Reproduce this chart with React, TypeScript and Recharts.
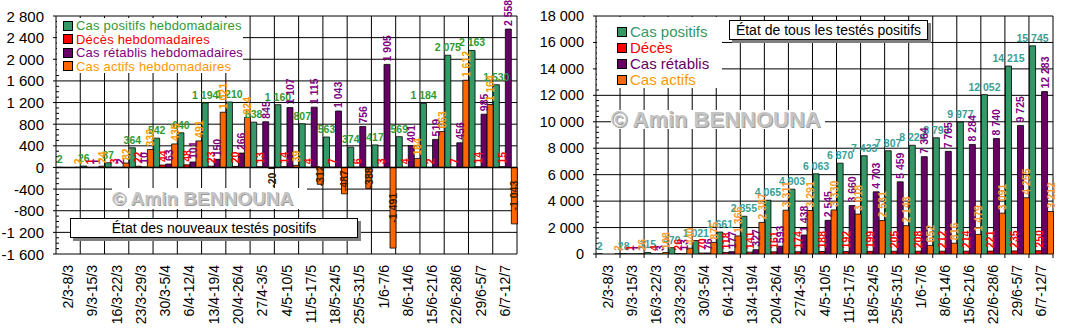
import React from 'react';
import { BarChart, Bar, XAxis, YAxis, CartesianGrid, LabelList, ReferenceLine } from 'recharts';

// Weekly periods (Monday–Sunday)
const weeks = [
  '2/3-8/3', '9/3-15/3', '16/3-22/3', '23/3-29/3', '30/3-5/4', '6/4-12/4', '13/4-19/4',
  '20/4-26/4', '27/4-3/5', '4/5-10/5', '11/5-17/5', '18/5-24/5', '25/5-31/5', '1/6-7/6',
  '8/6-14/6', '15/6-21/6', '22/6-28/6', '29/6-5/7', '6/7-12/7',
];

// New cases per week
const weeklyPositive = [2, 26, 87, 364, 542, 640, 1194, 1210, 838, 1160, 807, 563, 374, 417, 569, 1184, 2075, 2163, 1530];
const weeklyDeaths = [0, 1, 3, 22, 44, 48, 23, 20, 13, 14, 4, 7, 6, 3, 4, 2, 7, 14, 15];
const weeklyRecovered = [0, 1, 2, 10, 63, 101, 150, 266, 845, 1107, 1115, 1043, 756, 1905, 401, 519, 456, 985, 2558];
const weeklyActive = [2, 24, 82, 332, 435, 491, 1021, 924, -20, 39, -312, -487, -388, -1491, 164, 663, 1612, 1164, -1043];

// Cumulative totals at the end of each week
const totalPositive = [2, 28, 115, 479, 1021, 1661, 2855, 4065, 4903, 6063, 6870, 7433, 7807, 8224, 8793, 9977, 12052, 14215, 15745];
const totalDeaths = [0, 1, 4, 26, 70, 118, 141, 161, 174, 188, 192, 199, 205, 208, 212, 214, 221, 235, 250];
const totalRecovered = [0, 1, 3, 13, 76, 177, 327, 593, 1438, 2545, 3660, 4703, 5459, 7364, 7765, 8284, 8740, 9725, 12283];
const totalActive = [2, 26, 108, 440, 875, 1366, 2387, 3311, 3291, 3330, 3018, 2531, 2143, 652, 816, 1479, 3091, 4255, 3212];

// Axis ticks
const weeklyDomain: [number, number] = [-1600, 2800];
const totalDomain: [number, number] = [0, 18000];
const weeklyMajorTicks = [-1600, -1200, -800, -400, 0, 400, 800, 1200, 1600, 2000, 2400, 2800];
const totalMajorTicks = [0, 2000, 4000, 6000, 8000, 10000, 12000, 14000, 16000, 18000];
const weeklyMinorStep = 100;
const totalMinorStep = 400;

const stepTicks = (lo: number, hi: number, step: number) => {
  const out: number[] = [];
  for (let v = lo; v <= hi; v += step) out.push(v);
  return out;
};
const weeklyTicks = stepTicks(weeklyDomain[0], weeklyDomain[1], weeklyMinorStep);
const totalTicks = Array.from(
  new Set(stepTicks(totalDomain[0], totalDomain[1], totalMinorStep).concat(totalMajorTicks)),
).sort((a, b) => a - b);

const weeklyData = weeks.map((week, i) => ({
  week,
  positive: weeklyPositive[i],
  deaths: weeklyDeaths[i],
  recovered: weeklyRecovered[i],
  active: weeklyActive[i],
}));

const totalData = weeks.map((week, i) => ({
  week,
  positive: totalPositive[i],
  deaths: totalDeaths[i],
  recovered: totalRecovered[i],
  active: totalActive[i],
}));

const FONT = "'Liberation Sans', Arial, Helvetica, sans-serif";
const NARROW = "'Liberation Sans Narrow', 'Arial Narrow', 'Liberation Sans', Arial, sans-serif";

const GREEN = '#339966';
const RED = '#FF0000';
const PURPLE = '#660066';
const ORANGE = '#FF6600';

const fmt = (v: number) => {
  const s = String(Math.abs(v)).replace(/\B(?=(\d{3})+(?!\d))/g, ' ');
  return v < 0 ? '-' + s : s;
};

// Grid lines: one vertical line at every category boundary, horizontal lines at major ticks
const categoryBoundaries = (count: number) => ({ offset }: any) =>
  stepTicks(0, count, 1).map((i) => offset.left + (i * offset.width) / count);
const valueLines = (ticks: number[], domain: [number, number]) => ({ offset }: any) =>
  ticks.map((t) => offset.top + ((domain[1] - t) / (domain[1] - domain[0])) * offset.height);

const barBox = (p: any) => {
  const x = Number(p.x), y = Number(p.y), w = Number(p.width), h = Number(p.height);
  return { cx: x + w / 2, top: Math.min(y, y + h), bottom: Math.max(y, y + h), value: Number(p.value) };
};

const makeHLabel = (color: string, size: number) => (p: any) => {
  const b = barBox(p);
  return (
    <text x={b.cx} y={b.top - 4} textAnchor="middle" fill={color} fontSize={size} fontWeight="bold" fontFamily={NARROW}>
      {fmt(b.value)}
    </text>
  );
};

const makeVLabel = (color: string, size: number, negColor = '#3a1a00') => (p: any) => {
  const b = barBox(p);
  const label = fmt(b.value);
  const common = { fontSize: size, fontWeight: 'bold' as const, fontFamily: NARROW, dominantBaseline: 'central' as const };
  if (b.value < 0) {
    const len = b.bottom - b.top;
    if (len > label.length * 4) {
      const cy = (b.top + b.bottom) / 2;
      return (
        <text transform={`translate(${b.cx},${cy}) rotate(-90)`} textAnchor="middle" fill={negColor} {...common}>
          {label}
        </text>
      );
    }
    return (
      <text transform={`translate(${b.cx},${b.bottom + 4}) rotate(-90)`} textAnchor="end" fill={negColor} {...common}>
        {label}
      </text>
    );
  }
  return (
    <text transform={`translate(${b.cx},${b.top - 3}) rotate(-90)`} textAnchor="start" fill={color} {...common}>
      {label}
    </text>
  );
};

const makeYTick = (majorTicks: number[], fontSize: number) => (p: any) => {
  const v = Number(p.payload.value);
  const isMajor = majorTicks.includes(v);
  const x = Number(p.x), y = Number(p.y);
  return (
    <g>
      {isMajor ? (
        <line x1={x - 3} x2={x} y1={y} y2={y} stroke="#000" />
      ) : (
        <line x1={x} x2={x + 3} y1={y} y2={y} stroke="#000" />
      )}
      {isMajor && (
        <text x={x - 12} y={y} textAnchor="end" dominantBaseline="central" fontSize={fontSize} fontFamily={FONT} fill="#000">
          {fmt(v)}
        </text>
      )}
    </g>
  );
};

// Category label, optionally with small tick marks at the category edges
const makeXTick = (withMarks: boolean) => (p: any) => {
  const x = Number(p.x), y = Number(p.y);
  const half = Number(p.width) / weeks.length / 2;
  const showMarks = withMarks && Number.isFinite(half);
  return (
    <g>
      {showMarks && <line x1={x - half} x2={x - half} y1={y} y2={y + 4} stroke="#000" />}
      {showMarks && p.index === weeks.length - 1 && <line x1={x + half} x2={x + half} y1={y} y2={y + 4} stroke="#000" />}
      <text
        transform={`translate(${x},${y + 11}) rotate(-90)`}
        textAnchor="end"
        dominantBaseline="central"
        fontSize={14}
        fontFamily={FONT}
        fill="#000"
      >
        {p.payload.value}
      </text>
    </g>
  );
};

type LegendItem = { label: string; fill: string; text: string };

const weeklyLegend: LegendItem[] = [
  { label: 'Cas positifs hebdomadaires', fill: GREEN, text: '#339933' },
  { label: 'Décès hebdomadaires', fill: RED, text: '#FF0000' },
  { label: 'Cas rétablis hebdomadaires', fill: PURPLE, text: '#800080' },
  { label: 'Cas actifs hebdomadaires', fill: ORANGE, text: '#FF9900' },
];

const totalLegend: LegendItem[] = [
  { label: 'Cas positifs', fill: GREEN, text: '#339966' },
  { label: 'Décès', fill: RED, text: '#FF0000' },
  { label: 'Cas rétablis', fill: PURPLE, text: '#660066' },
  { label: 'Cas actifs', fill: ORANGE, text: '#FF9900' },
];

const LegendBox = ({ items, left, top, width, height, rowH, fontSize, swatch, padLeft, padTop, spacing }: any) => (
  <div style={{ position: 'absolute', left, top, width, height, background: '#fff' }}>
    {items.map((it: LegendItem, i: number) => (
      <div
        key={it.label}
        style={{
          position: 'absolute',
          left: padLeft,
          top: padTop + i * rowH,
          height: rowH,
          display: 'flex',
          alignItems: 'center',
          whiteSpace: 'nowrap',
        }}
      >
        <span
          style={{
            display: 'inline-block',
            width: swatch,
            height: swatch,
            background: it.fill,
            border: '1px solid #000',
            boxSizing: 'border-box',
            marginRight: 3,
          }}
        />
        <span style={{ fontFamily: FONT, fontSize, color: it.text, lineHeight: `${rowH}px`, letterSpacing: spacing }}>
          {it.label}
        </span>
      </div>
    ))}
  </div>
);

const TitleBox = ({ text, left, top, width, height, fontSize }: any) => (
  <div
    style={{
      position: 'absolute',
      left,
      top,
      width,
      height,
      boxSizing: 'border-box',
      background: '#fff',
      border: '1px solid #000',
      boxShadow: '3px 3px 0 #808080',
      fontFamily: FONT,
      fontSize,
      lineHeight: `${height - 2}px`,
      textAlign: 'center',
      whiteSpace: 'nowrap',
      color: '#000',
    }}
  >
    {text}
  </div>
);

const Watermark = ({ left, top, width, height, fontSize }: any) => (
  <div
    style={{
      position: 'absolute',
      left,
      top,
      width,
      height,
      background: '#fff',
      fontFamily: FONT,
      fontWeight: 'bold',
      fontSize,
      lineHeight: `${height}px`,
      color: '#C4C4C4',
      textShadow: '1px 1px 0 #9a9a9a',
      whiteSpace: 'nowrap',
    }}
  >
    © Amin BENNOUNA
  </div>
);

export default function App() {
  return (
    <div style={{ position: 'absolute', left: 0, top: 0, width: 1069, height: 331, background: '#fff', overflow: 'hidden' }}>
      {/* Weekly new cases */}
      <div style={{ position: 'absolute', left: 0, top: 0, width: 530, height: 331 }}>
        <BarChart
          width={530}
          height={331}
          data={weeklyData}
          margin={{ top: 16, right: 13, bottom: 0, left: 0 }}
          barCategoryGap={0.6}
          barGap={0}
        >
          <CartesianGrid
            stroke="#000"
            strokeWidth={1}
            verticalCoordinatesGenerator={categoryBoundaries(weeks.length)}
            horizontalCoordinatesGenerator={valueLines(weeklyMajorTicks, weeklyDomain)}
          />
          <XAxis dataKey="week" interval={0} height={77} tick={makeXTick(false)} tickLine={false} axisLine={false} tickSize={0} tickMargin={0} />
          <YAxis
            domain={weeklyDomain}
            ticks={weeklyTicks}
            interval={0}
            width={56}
            tick={makeYTick(weeklyMajorTicks, 15)}
            tickLine={false}
            axisLine={false}
            tickSize={0}
            tickMargin={0}
            allowDataOverflow
          />
          <ReferenceLine y={0} stroke="#000" strokeWidth={1.5} />
          <Bar dataKey="positive" fill={GREEN} stroke="#000" strokeWidth={0.8} isAnimationActive={false}>
            <LabelList dataKey="positive" content={makeHLabel('#339933', 10.5)} />
          </Bar>
          <Bar dataKey="deaths" fill={RED} stroke="#000" strokeWidth={0.8} isAnimationActive={false}>
            <LabelList dataKey="deaths" content={makeVLabel('#FF0000', 10.5)} />
          </Bar>
          <Bar dataKey="recovered" fill={PURPLE} stroke="#000" strokeWidth={0.8} isAnimationActive={false}>
            <LabelList dataKey="recovered" content={makeVLabel('#800080', 10.5)} />
          </Bar>
          <Bar dataKey="active" fill={ORANGE} stroke="#000" strokeWidth={0.8} isAnimationActive={false}>
            <LabelList dataKey="active" content={makeVLabel('#FF9900', 10.5)} />
          </Bar>
        </BarChart>
        <LegendBox items={weeklyLegend} left={57} top={18} width={186} height={55} rowH={13.5} fontSize={13} swatch={10} padLeft={6} padTop={1} spacing={0.2} />
        <Watermark left={112} top={188} width={195} height={21} fontSize={19} />
        <TitleBox text="État des nouveaux testés positifs" left={70} top={218} width={288} height={20} fontSize={14} />
      </div>

      {/* Cumulative totals */}
      <div style={{ position: 'absolute', left: 530, top: 0, width: 539, height: 331 }}>
        <BarChart
          width={539}
          height={331}
          data={totalData}
          margin={{ top: 16, right: 16, bottom: 0, left: 0 }}
          barCategoryGap={0.6}
          barGap={0}
        >
          <CartesianGrid
            stroke="#000"
            strokeWidth={1}
            verticalCoordinatesGenerator={categoryBoundaries(weeks.length)}
            horizontalCoordinatesGenerator={valueLines(totalMajorTicks, totalDomain)}
          />
          <XAxis dataKey="week" interval={0} height={77} tick={makeXTick(true)} tickLine={false} axisLine={false} tickSize={0} tickMargin={0} />
          <YAxis
            domain={totalDomain}
            ticks={totalTicks}
            interval={0}
            width={66}
            tick={makeYTick(totalMajorTicks, 14.5)}
            tickLine={false}
            axisLine={false}
            tickSize={0}
            tickMargin={0}
            allowDataOverflow
          />
          <Bar dataKey="positive" fill={GREEN} stroke="#000" strokeWidth={0.8} isAnimationActive={false}>
            <LabelList dataKey="positive" content={makeHLabel('#3AA093', 10.5)} />
          </Bar>
          <Bar dataKey="deaths" fill={RED} stroke="#000" strokeWidth={0.8} isAnimationActive={false}>
            <LabelList dataKey="deaths" content={makeVLabel('#FF0000', 10.5)} />
          </Bar>
          <Bar dataKey="recovered" fill={PURPLE} stroke="#000" strokeWidth={0.8} isAnimationActive={false}>
            <LabelList dataKey="recovered" content={makeVLabel('#800080', 10.5)} />
          </Bar>
          <Bar dataKey="active" fill={ORANGE} stroke="#000" strokeWidth={0.8} isAnimationActive={false}>
            <LabelList dataKey="active" content={makeVLabel('#FF9933', 10.5)} />
          </Bar>
        </BarChart>
        <LegendBox items={totalLegend} left={67} top={17} width={125} height={71} rowH={16} fontSize={15} swatch={10} padLeft={20} padTop={7} spacing={0} />
        <Watermark left={81} top={110} width={214} height={19} fontSize={22} />
        <TitleBox text="État de tous les testés positifs" left={199} top={20} width={199} height={20} fontSize={14} />
      </div>
    </div>
  );
}
